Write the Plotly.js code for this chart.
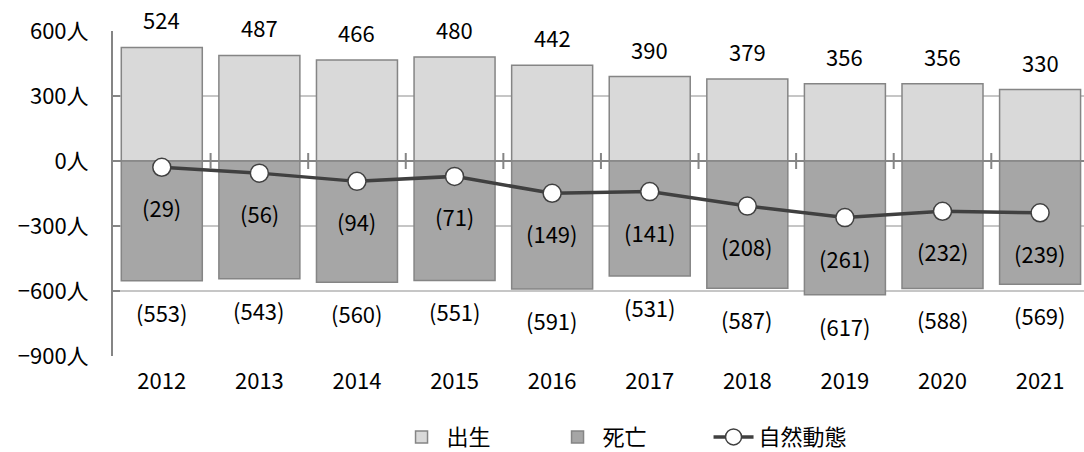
<!DOCTYPE html>
<html><head><meta charset="utf-8">
<script src="https://cdn.plot.ly/plotly-3.0.1.min.js"></script>
<style>html,body{margin:0;padding:0;background:#fff}</style>
</head><body>
<div id="chart" style="width:1084px;height:452px"></div>
<script>
const years = ['2012','2013','2014','2015','2016','2017','2018','2019','2020','2021'];
const births = [524,487,466,480,442,390,379,356,356,330];
const deaths = [553,543,560,551,591,531,587,617,588,569];
const natural = [-29,-56,-94,-71,-149,-141,-208,-261,-232,-239];
const yTickVals = [600,300,0,-300,-600,-900];
const yTickText = ['600人','300人','0人','−300人','−600人','−900人'];

const FONT = '"Noto Sans CJK JP", "Noto Sans", sans-serif';
const FS = 22;

const traces = [
  {type:'bar', name:'出生', x:years, y:births, width:0.83,
   marker:{color:'#d9d9d9', line:{color:'#858585', width:1.5}}, hoverinfo:'skip'},
  {type:'bar', name:'死亡', x:years, y:deaths.map(d=>-d), width:0.83,
   marker:{color:'#a6a6a6', line:{color:'#858585', width:1.5}}, hoverinfo:'skip'},
  {type:'scatter', mode:'lines+markers', name:'自然動態', x:years, y:natural,
   line:{color:'#404040', width:3.5},
   marker:{symbol:'circle', size:18, color:'#ffffff', line:{color:'#404040', width:1.5}},
   hoverinfo:'skip'}
];

const annotations = [];
years.forEach((yr,i)=>{
  annotations.push({xref:'x', yref:'y', x:i, y:births[i], text:String(births[i]), showarrow:false, yshift:28, yanchor:'middle', font:{size:FS,color:'#000',family:FONT}});
  annotations.push({xref:'x', yref:'y', x:i, y:-deaths[i], text:'('+deaths[i]+')', showarrow:false, yshift:-31, yanchor:'middle', font:{size:FS,color:'#000',family:FONT}});
  annotations.push({xref:'x', yref:'y', x:i, y:natural[i], text:'('+(-natural[i])+')', showarrow:false, yshift:-40, yanchor:'middle', font:{size:FS,color:'#000',family:FONT}});
});

const shapes = [];
for (let i=0;i<years.length-1;i++){
  shapes.push({type:'line', xref:'x', yref:'y', x0:i+0.5, x1:i+0.5, ysizemode:'pixel', yanchor:0, y0:-8, y1:8,
    line:{color:'#858585', width:2}, layer:'above'});
}

const layout = {
  width:1084, height:452,
  margin:{l:113, r:0, t:31, b:96},
  paper_bgcolor:'#fff', plot_bgcolor:'#fff',
  font:{family:FONT, size:FS, color:'#000'},
  barmode:'relative',
  showlegend:true,
  legend:{orientation:'h', x:0.292, xanchor:'left', yref:'container', y:0.033, yanchor:'middle',
    font:{size:FS, family:FONT, color:'#000'}, entrywidth:101, entrywidthmode:'pixels', itemwidth:40,
    traceorder:'normal'},
  xaxis:{type:'category', range:[-0.5,9.45], showgrid:false, zeroline:false, showline:false,
    ticks:'', ticklabelstandoff:10, tickfont:{size:FS, family:FONT, color:'#000'}, fixedrange:true, automargin:false},
  yaxis:{range:[-900,600], tickvals:yTickVals, ticktext:yTickText,
    showgrid:true, gridcolor:'#c6c6c6', gridwidth:1.5,
    zeroline:true, zerolinecolor:'#858585', zerolinewidth:2,
    showline:true, linecolor:'#858585', linewidth:2,
    ticks:'inside', ticklen:7, tickwidth:2, tickcolor:'#858585',
    ticklabelstandoff:18, tickfont:{size:FS, family:FONT, color:'#000'}, fixedrange:true, automargin:false},
  annotations:annotations,
  shapes:shapes
};

Plotly.newPlot('chart', traces, layout, {displayModeBar:false, staticPlot:true});
</script>
</body></html>
